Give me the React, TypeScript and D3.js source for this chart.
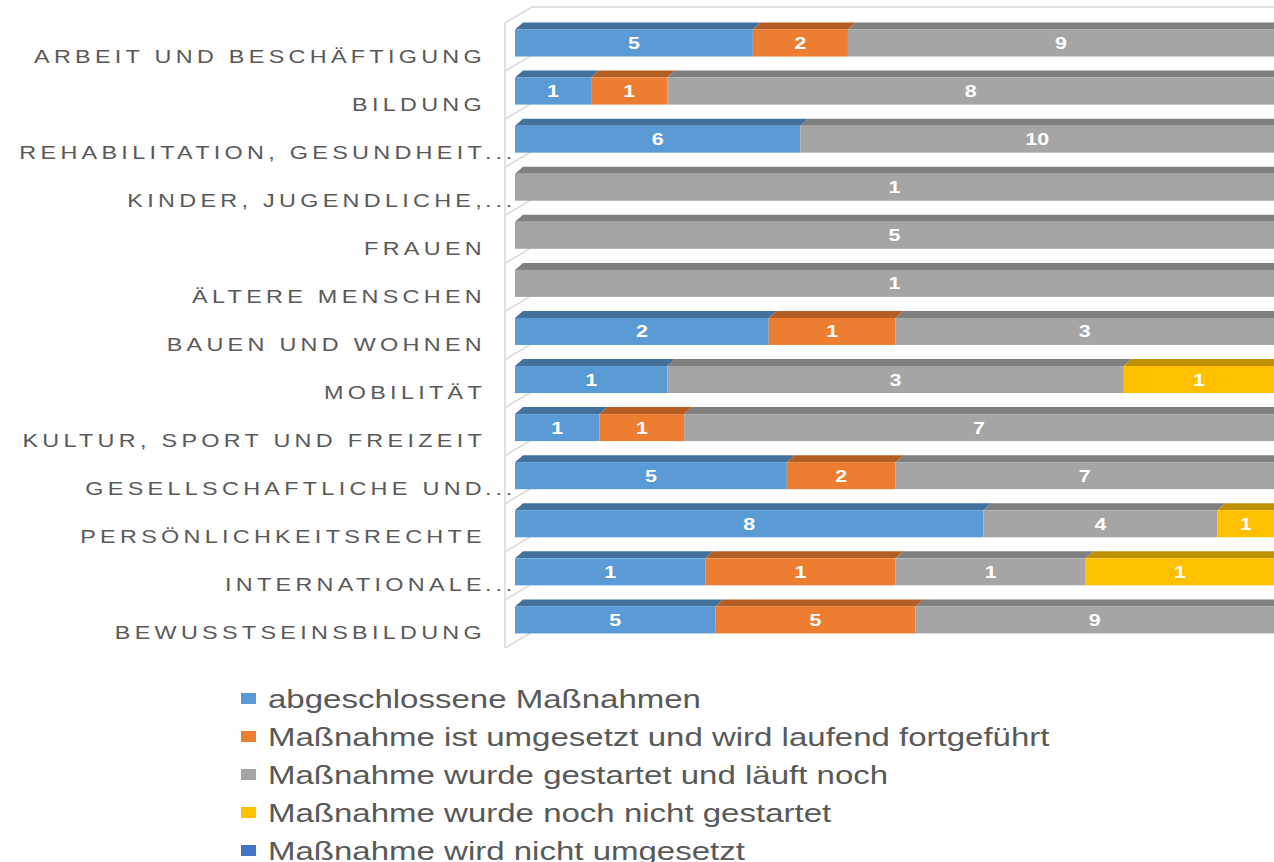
import React from 'react';
import * as d3 from 'd3';

// categories, top to bottom (a trailing "..." marks a label cut by the chart)
const categories = [
  'ARBEIT UND BESCHÄFTIGUNG',
  'BILDUNG',
  'REHABILITATION, GESUNDHEIT...',
  'KINDER, JUGENDLICHE,...',
  'FRAUEN',
  'ÄLTERE MENSCHEN',
  'BAUEN UND WOHNEN',
  'MOBILITÄT',
  'KULTUR, SPORT UND FREIZEIT',
  'GESELLSCHAFTLICHE UND...',
  'PERSÖNLICHKEITSRECHTE',
  'INTERNATIONALE...',
  'BEWUSSTSEINSBILDUNG',
];

const seriesNames = [
  'abgeschlossene Maßnahmen',
  'Maßnahme ist umgesetzt und wird laufend fortgeführt',
  'Maßnahme wurde gestartet und läuft noch',
  'Maßnahme wurde noch nicht gestartet',
  'Maßnahme wird nicht umgesetzt',
];

const abgeschlossen = [5, 1, 6, 0, 0, 0, 2, 1, 1, 5, 8, 1, 5];
const laufend = [2, 1, 0, 0, 0, 0, 1, 0, 1, 2, 0, 1, 5];
const gestartet = [9, 8, 10, 1, 5, 1, 3, 3, 7, 7, 4, 1, 9];
const nichtGestartet = [0, 0, 0, 0, 0, 0, 0, 1, 0, 0, 1, 1, 0];
const nichtUmgesetzt = [0, 0, 0, 0, 0, 0, 0, 0, 0, 0, 0, 0, 0];

const FRONT = ['#5b9bd5', '#ed7d31', '#a5a5a5', '#ffc000', '#4472c4'];
const TOP = ['#41719c', '#b45e24', '#7f7f7f', '#bf9000', '#2f528f'];

const W = 1274;
const H = 862;
const X0 = 515;
const X1 = 1276;
const Y0 = 23;
const Y1 = 648;
const DEPTH = { dx: 8, dy: -7 };
const WALL = { dx: 27, dy: -16 };
const FACE_OFF = 6.5;
const FACE_H = 27;
const LABEL_X = 486;
const SX = 1.3; // the reference text is stretched horizontally

export default function App() {
  const keys = seriesNames.map((_, i) => 's' + i);
  const values = [abgeschlossen, laufend, gestartet, nichtGestartet, nichtUmgesetzt];
  const rows = categories.map((c, i) => {
    const r: any = { cat: c };
    keys.forEach((k, j) => { r[k] = values[j][i]; });
    return r;
  });

  const stacked = d3.stack().keys(keys).offset(d3.stackOffsetExpand)(rows);
  const x = d3.scaleLinear().domain([0, 1]).range([X0, X1]);
  const y = d3.scaleBand().domain(categories).range([Y0, Y1]);

  const walls = categories.map((c, i) => {
    const yy = y(c)!;
    return <line key={'w' + i} x1={505} y1={yy} x2={505 + WALL.dx} y2={yy + WALL.dy} stroke='#d9d9d9' strokeWidth={1.5} />;
  });

  const bars = stacked.map((s, si) =>
    s.map((d, ci) => {
      const v = values[si][ci];
      if (!v) return null;
      const xa = x(d[0]);
      const xb = x(d[1]);
      const yt = y(categories[ci])! + FACE_OFF;
      const top = `M${xa},${yt}L${xa + DEPTH.dx},${yt + DEPTH.dy}L${xb + DEPTH.dx},${yt + DEPTH.dy}L${xb},${yt}Z`;
      return <g key={si + '-' + ci}>
        <path d={top} fill={TOP[si]} />
        <rect x={xa} y={yt} width={xb - xa} height={FACE_H} fill={FRONT[si]} />
      </g>;
    })
  );

  const labels = stacked.map((s, si) =>
    s.map((d, ci) => {
      const v = values[si][ci];
      if (!v) return null;
      const cx = (x(d[0]) + Math.min(x(d[1]), W)) / 2;
      const cy = y(categories[ci])! + FACE_OFF + FACE_H / 2 + 6;
      return <text key={'l' + si + '-' + ci} transform={`translate(${cx},${cy}) scale(${SX},1)`}
        textAnchor='middle' fill='#fff' fontWeight='bold' fontSize={16.5}>{v}</text>;
    })
  );

  const catLabels = categories.map((c, i) => {
    const cut = c.endsWith('...');
    const main = cut ? c.slice(0, -3) : c;
    const by = y(c)! + 39.5;
    return <g key={'c' + i} fill='#595959' fontSize={18} letterSpacing={3.3}>
      <text transform={`translate(${LABEL_X},${by}) scale(${SX},1)`} textAnchor='end'>{main}</text>
      {cut ? <text transform={`translate(${LABEL_X - 1},${by}) scale(${SX},1)`} textAnchor='start' letterSpacing={3}>...</text> : null}
    </g>;
  });

  const legendY = [698, 736, 774, 812, 850];
  const legend = seriesNames.map((n, i) => <g key={'lg' + i}>
    <rect x={241} y={legendY[i] - 5} width={15} height={11} fill={FRONT[i]} />
    <text transform={`translate(268,${legendY[i] + 9.5}) scale(1.27,1)`} fill='#595959' fontSize={26}>{n}</text>
  </g>);

  return <div style={{ position: 'absolute', left: 0, top: 0 }}>
    <svg width={W} height={H} style={{ display: 'block', fontFamily: '"Liberation Sans", Arial, sans-serif' }}>
      <rect width={W} height={H} fill='#fff' />
      <g>
        <line x1={505 + WALL.dx} y1={Y0 + WALL.dy} x2={W} y2={Y0 + WALL.dy} stroke='#d9d9d9' strokeWidth={1.5} />
        <line x1={505} y1={Y0} x2={505} y2={Y1} stroke='#d9d9d9' strokeWidth={1.5} />
        {walls}
        <line x1={505} y1={Y1} x2={505 + WALL.dx} y2={Y1 + WALL.dy} stroke='#d9d9d9' strokeWidth={1.5} />
        <line x1={505 + WALL.dx} y1={Y1 + WALL.dy} x2={W} y2={Y1 + WALL.dy} stroke='#d9d9d9' strokeWidth={1.5} />
      </g>
      {bars}
      {labels}
      {catLabels}
      {legend}
    </svg>
  </div>;
}
